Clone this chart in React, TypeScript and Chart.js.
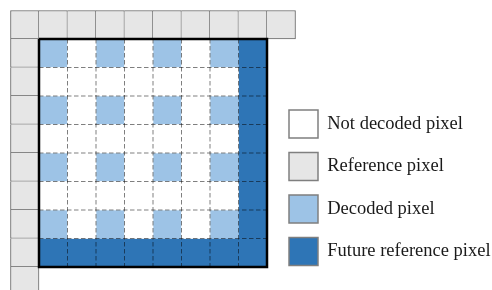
import React, { useEffect, useRef } from "react";
import { Chart, registerables } from "chart.js";

Chart.register(...registerables);

// ---- data ----
const CELL_LABELS = ["Not decoded pixel", "Reference pixel", "Decoded pixel", "Future reference pixel"];
const CELL_CODES = ["N", "R", "D", "F"];
const CELL_COLORS = ["#ffffff", "#e6e6e6", "#9dc3e6", "#2e75b6"];
// one string per row of pixels, one character per column ("." = nothing drawn)
const CELL_MAP = [
  "RRRRRRRRRR",
  "RDNDNDNDF.",
  "RNNNNNNNF.",
  "RDNDNDNDF.",
  "RNNNNNNNF.",
  "RDNDNDNDF.",
  "RNNNNNNNF.",
  "RDNDNDNDF.",
  "RFFFFFFFF.",
  "R.........",
];
const BLOCK_START = 1;
const BLOCK_END = 9;
const INNER_LINES = [2, 3, 4, 5, 6, 7, 8];

// axis extents (in pixel-cell units) so cells come out square
const X_MAX = 264 / 28.5;
const Y_MAX = 279.5 / 28.5;

type Pt = { x: number; y: any };

function cellsOf(code: string): Pt[] {
  const pts: Pt[] = [];
  CELL_MAP.forEach((row, r) => {
    row.split("").forEach((ch, c) => {
      if (ch === code) pts.push({ x: c + 0.5, y: [r, r + 1] });
    });
  });
  return pts;
}

export default function App() {
  const ref = useRef<HTMLCanvasElement | null>(null);

  useEffect(() => {
    if (!ref.current) return;

    const barSets = CELL_CODES.map((code, i) => ({
      type: "bar" as const,
      label: CELL_LABELS[i],
      data: cellsOf(code),
      backgroundColor: CELL_COLORS[i],
      borderColor: "#666666",
      borderWidth:
        code === "R"
          ? (ctx: any) => {
              const raw = ctx.raw;
              if (!raw) return 1;
              return {
                top: raw.y[0] === 0 ? 1 : 0,
                left: raw.x < 1 ? 1 : 0,
                right: 1,
                bottom: 1,
              };
            }
          : 0,
      borderSkipped: false,
      grouped: false,
      barPercentage: 1,
      categoryPercentage: 1,
      clip: false,
      order: 3,
    }));

    const vLines: Pt[] = INNER_LINES.flatMap((v) => [
      { x: v, y: BLOCK_START },
      { x: v, y: BLOCK_END },
      { x: v, y: null },
    ]);
    const hLines: Pt[] = INNER_LINES.flatMap((v) => [
      { x: BLOCK_START, y: v },
      { x: BLOCK_END, y: v },
      { x: BLOCK_END, y: null },
    ]);
    const frame: Pt[] = [
      { x: BLOCK_START, y: BLOCK_START },
      { x: BLOCK_END, y: BLOCK_START },
      { x: BLOCK_END, y: BLOCK_END },
      { x: BLOCK_START, y: BLOCK_END },
      { x: BLOCK_START, y: BLOCK_START },
    ];

    const dashStyle = {
      type: "line" as const,
      borderColor: "rgba(0,0,0,0.5)",
      borderWidth: 1,
      borderDash: [4.5, 2.5],
      pointRadius: 0,
      pointHoverRadius: 0,
      fill: false,
      tension: 0,
      spanGaps: false,
      order: 2,
    };

    const chart = new Chart(ref.current, {
      type: "bar",
      data: {
        datasets: [
          ...barSets,
          { ...dashStyle, data: vLines },
          { ...dashStyle, data: hLines },
          {
            type: "line",
            data: frame,
            borderColor: "#000000",
            borderWidth: 2.5,
            borderJoinStyle: "miter",
            pointRadius: 0,
            pointHoverRadius: 0,
            fill: false,
            tension: 0,
            order: 1,
          },
        ] as any,
      },
      options: {
        responsive: false,
        animation: false,
        events: [],
        layout: { padding: { left: 10.5, top: 10.5, right: 0, bottom: 0 } },
        scales: {
          x: {
            type: "linear",
            offset: false,
            min: 0,
            max: X_MAX,
            display: false,
            ticks: { stepSize: 1, includeBounds: false },
            grid: { display: false, offset: false },
          },
          y: {
            type: "linear",
            reverse: true,
            min: 0,
            max: Y_MAX,
            display: false,
            grid: { display: false },
          },
        },
        plugins: {
          tooltip: { enabled: false },
          legend: {
            position: "right",
            align: "start",
            maxWidth: 217.5,
            title: {
              display: true,
              text: "",
              font: { size: 10, lineHeight: 1 },
              padding: { top: 75, bottom: 0 },
            },
            labels: {
              boxWidth: 29,
              boxHeight: 28,
              padding: 14.5,
              color: "#1a1a1a",
              font: { family: "'Liberation Serif', 'Times New Roman', serif", size: 18.5 },
              generateLabels: (c: any) => {
                const base = (Chart.defaults.plugins.legend.labels as any).generateLabels(c);
                return base
                  .filter((it: any) => CELL_LABELS.includes(it.text))
                  .map((it: any) => ({ ...it, lineWidth: 1.5, strokeStyle: "#7f7f7f" }));
              },
            },
          },
        },
      } as any,
    });

    return () => chart.destroy();
  }, []);

  return (
    <div style={{ position: "absolute", left: 0, top: 0, width: 492, height: 290, background: "#ffffff" }}>
      <canvas ref={ref} width={492} height={290} style={{ display: "block" }} />
    </div>
  );
}
